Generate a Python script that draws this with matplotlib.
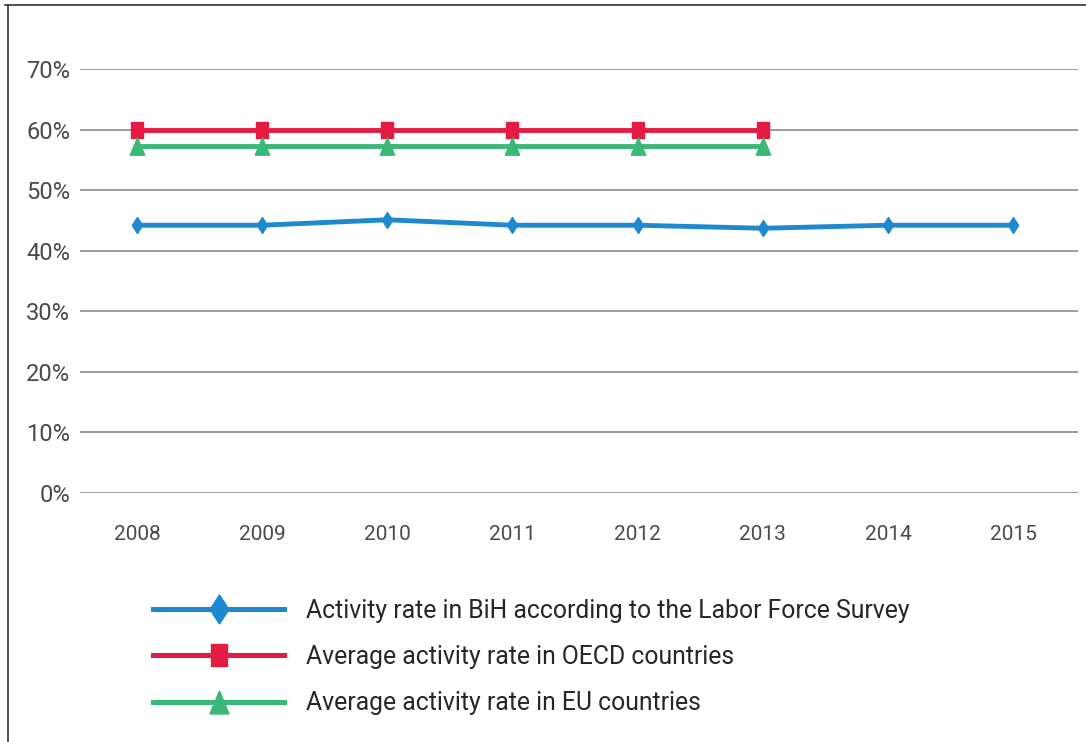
import matplotlib
matplotlib.use("Agg")
import matplotlib.pyplot as plt
from matplotlib.lines import Line2D

years = ["2008", "2009", "2010", "2011", "2012", "2013", "2014", "2015"]
bih_rate = [44.2, 44.2, 45.1, 44.2, 44.2, 43.7, 44.2, 44.2]
oecd_rate = [60.0, 60.0, 60.0, 60.0, 60.0, 60.0]
eu_rate = [57.3, 57.3, 57.3, 57.3, 57.3, 57.3]
y_ticks = [0, 10, 20, 30, 40, 50, 60, 70]
labels = [
    "Activity rate in BiH according to the Labor Force Survey",
    "Average activity rate in OECD countries",
    "Average activity rate in EU countries",
]

BLUE = "#1f89cf"
RED = "#e41b43"
GREEN = "#3bb878"
TICK = "#4a4a4a"
TEXT = "#262626"

# Slightly tall marker shapes
DIAMOND = [(0, -1.55), (1, 0), (0, 1.55), (-1, 0), (0, -1.55)]
SQUARE = [(-1, -1.45), (1, -1.45), (1, 1.45), (-1, 1.45), (-1, -1.45)]
TRIANGLE = [(-1, -1.2), (1, -1.2), (0, 1.2), (-1, -1.2)]

plt.rcParams["font.family"] = ["Roboto", "DejaVu Sans"]

fig = plt.figure(figsize=(10.86, 7.42), dpi=100)
ax = fig.add_axes([0.0737, 0.3356, 0.919, 0.5715])

x = list(range(len(years)))
ax.plot(x, bih_rate, color=BLUE, lw=3.5, marker=DIAMOND, ms=11.5, zorder=3)
ax.plot(x[:len(oecd_rate)], oecd_rate, color=RED, lw=3.5, marker=SQUARE, ms=11.5, zorder=3)
ax.plot(x[:len(eu_rate)], eu_rate, color=GREEN, lw=3.5, marker=TRIANGLE, ms=12.5, zorder=3)

ax.set_xlim(-0.456, len(years) - 1 + 0.52)
ax.set_ylim(0, 70)
ax.set_yticks(y_ticks)
ax.set_yticklabels([f"{v}%" for v in y_ticks])
ax.set_xticks(x)
ax.set_xticklabels(years)
ax.grid(axis="y", color="#8a8a8a", lw=1.2)
ax.set_axisbelow(True)
for s in ax.spines.values():
    s.set_visible(False)
ax.tick_params(axis="y", length=0, pad=7, labelsize=17, labelcolor=TICK)
ax.tick_params(axis="x", length=0, pad=23, labelsize=15, labelcolor=TICK)

# Legend with larger markers than on the plot
leg_handles = [
    Line2D([], [], color=BLUE, lw=3.6, marker=DIAMOND, ms=21),
    Line2D([], [], color=RED, lw=3.6, marker=SQUARE, ms=16.5),
    Line2D([], [], color=GREEN, lw=3.6, marker=TRIANGLE, ms=16.5),
]
fig.legend(leg_handles, labels, loc="upper left", bbox_to_anchor=(0.141, 0.193),
           frameon=False, fontsize=17.8, handlelength=5.3, handletextpad=0.88,
           labelspacing=0.9, labelcolor=TEXT, borderaxespad=0, borderpad=0)

# Outer frame: top and left edges
fig.add_artist(Line2D([0.005, 1.0], [0.993, 0.993], transform=fig.transFigure,
                      color="#333333", lw=1.2))
fig.add_artist(Line2D([0.0075, 0.0075], [0.0, 0.993], transform=fig.transFigure,
                      color="#333333", lw=1.2))

fig.savefig("out.png", dpi=100)
